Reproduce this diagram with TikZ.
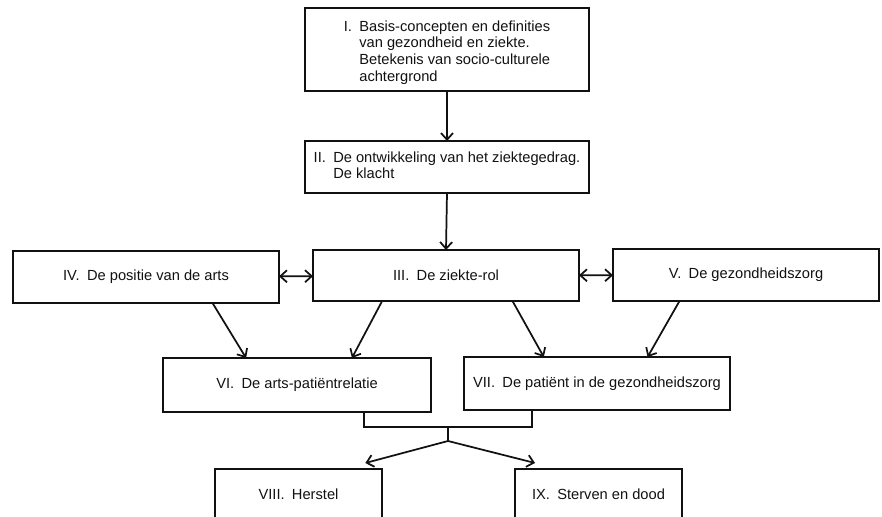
\documentclass[tikz,border=0pt]{standalone}
\usepackage{fontspec}
\setmainfont{Liberation Sans}
\usepackage{tikz}
\usetikzlibrary{arrows.meta,calc}
\definecolor{inkmain}{HTML}{111111}
\tikzset{every node/.append style={font=\fontsize{11}{12.5}\selectfont}}

\begin{document}
\begin{tikzpicture}[x=0.75pt,y=-0.75pt,>={Straight Barb[length=5pt,width=9pt]},
    box/.style={draw=inkmain,line width=1.4pt,inner sep=0pt,outer sep=0pt,text=inkmain},
    link/.style={inkmain,line width=1.3pt}]
  % pixel grid of the scan, y running down
  \useasboundingbox (0,0) rectangle (882,517);
  \clip (0,0) rectangle (882,517);
  \node[box,minimum width=213pt,minimum height=62.25pt] (basis) at (447,49.5)
    {\begin{tabular}{@{}l@{\enspace}l@{}}\rule{0pt}{14pt}I. & Basis-concepten en definities\\
      & van gezondheid en ziekte.\\ & Betekenis van socio-culturele\\ & achtergrond\end{tabular}};
  \node[box,minimum width=213pt,minimum height=39pt] (ontw) at (447,167)
    {\begin{tabular}{@{}l@{\enspace}l@{}}II. & De ontwikkeling van het ziektegedrag.\\ & De klacht\end{tabular}};
  \node[box,minimum width=199.5pt,minimum height=39pt] (arts) at (146,277) {IV.\enspace De positie van de arts};
  \node[box,minimum width=199.5pt,minimum height=38.25pt] (rol) at (446,275.5) {III.\enspace De ziekte-rol};
  \node[box,minimum width=199.5pt,minimum height=39pt] (zorg) at (746,275) {V.\enspace De gezondheidszorg};
  \node[box,minimum width=201pt,minimum height=40.5pt] (relatie) at (297,385) {VI.\enspace De arts-patiëntrelatie};
  \node[box,minimum width=199.5pt,minimum height=39.75pt] (patient) at (597,383.5) {VII.\enspace De patiënt in de gezondheidszorg};
  \node[box,minimum width=125.25pt,minimum height=37.5pt] (herstel) at (298.5,494) {VIII.\enspace Herstel};
  \node[box,minimum width=125.25pt,minimum height=37.5pt] (sterven) at (598.5,494) {IX.\enspace Sterven en dood};

  \draw[link,->] (basis.south) -- (ontw.north);
  \draw[link,->] (ontw.south) -- (rol.north);
  \draw[link,<->] (arts) -- (rol);
  \draw[link,<->] (rol) -- (zorg);
  \draw[link,->] ($(arts.south west)!.75!(arts.south east)$) -- ($(relatie.north west)!.31!(relatie.north east)$);
  \draw[link,->] ($(rol.south west)!.26!(rol.south east)$) -- ($(relatie.north west)!.705!(relatie.north east)$);
  \draw[link,->] ($(rol.south west)!.75!(rol.south east)$) -- ($(patient.north west)!.3!(patient.north east)$);
  \draw[link,->] ($(zorg.south west)!.25!(zorg.south east)$) -- ($(patient.north west)!.69!(patient.north east)$);

  % both outcomes hang from one fork
  \coordinate (split) at (448,427);
  \coordinate (fork) at (448,441);
  \draw[link] ($(relatie.south west)!.75!(relatie.south east)$) |- (split)
    -| ($(patient.south west)!.256!(patient.south east)$);
  \draw[link] (split) -- (fork);
  \draw[link,->] (fork) -- ([yshift=4.5pt]$(herstel.north west)!.9!(herstel.north east)$);
  \draw[link,->] (fork) -- ([yshift=4.5pt]$(sterven.north west)!.12!(sterven.north east)$);
\end{tikzpicture}
\end{document}
